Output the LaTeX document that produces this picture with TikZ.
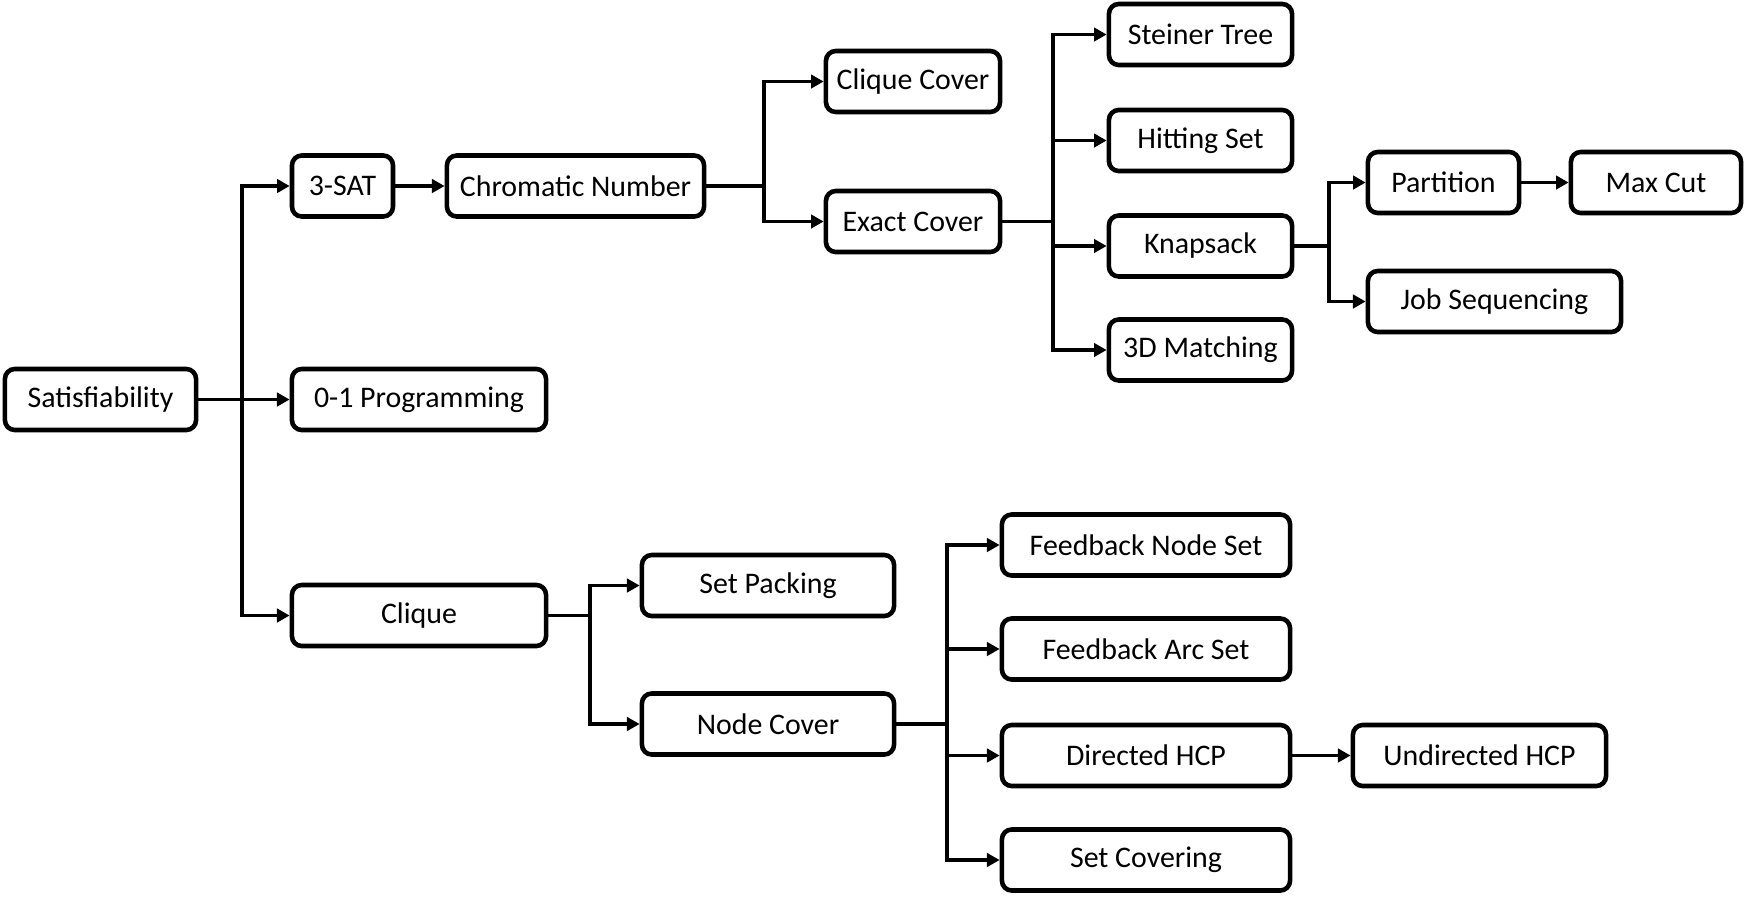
\documentclass[tikz,border=0pt]{standalone}
\usepackage{fontspec}
\setmainfont{Carlito}
\usetikzlibrary{arrows.meta}
\tikzset{
  box/.style={draw=black, line width=1.3pt, rounded corners=2.8pt, fill=white,
    minimum height=0.61cm, inner sep=0pt, font=\fontsize{8.5}{10}\selectfont},
  conn/.style={draw=black, line width=0.95pt},
  arr/.style={conn, -{Triangle[length=3.6pt,width=3.8pt]}}
}
\begin{document}
\begin{tikzpicture}[x=0.01cm, y=-0.01cm]
\useasboundingbox (0,0) rectangle (1747,896);
% nodes
\node[box, minimum width=1.91cm] (sat) at (100.5,399.5) {Satisfiability};
\node[box, minimum width=1.01cm] (sat3) at (342.5,186) {3-SAT};
\node[box, minimum width=2.57cm] (chrom) at (575.5,186) {Chromatic Number};
\node[box, minimum width=2.54cm] (prog) at (419,399.5) {0-1 Programming};
\node[box, minimum width=2.54cm] (clique) at (419,615.5) {Clique};
\node[box, minimum width=1.74cm] (ccover) at (913,81.5) {Clique Cover};
\node[box, minimum width=1.74cm] (ecover) at (913,221.5) {Exact Cover};
\node[box, minimum width=1.83cm] (steiner) at (1200.5,34.5) {Steiner Tree};
\node[box, minimum width=1.83cm] (hitting) at (1200.5,140.5) {Hitting Set};
\node[box, minimum width=1.83cm] (knap) at (1200.5,246) {Knapsack};
\node[box, minimum width=1.83cm] (match) at (1200.5,350) {3D Matching};
\node[box, minimum width=1.51cm] (part) at (1443.5,182.5) {Partition};
\node[box, minimum width=1.70cm] (maxcut) at (1656,182.5) {Max Cut};
\node[box, minimum width=2.53cm] (job) at (1494.5,301.5) {Job Sequencing};
\node[box, minimum width=2.52cm] (setpack) at (768,585.5) {Set Packing};
\node[box, minimum width=2.52cm] (nodecover) at (768,724) {Node Cover};
\node[box, minimum width=2.88cm] (fns) at (1146,545) {Feedback Node Set};
\node[box, minimum width=2.88cm] (fas) at (1146,649) {Feedback Arc Set};
\node[box, minimum width=2.88cm] (dhcp) at (1146,755.5) {Directed HCP};
\node[box, minimum width=2.53cm] (uhcp) at (1479.5,755.5) {Undirected HCP};
\node[box, minimum width=2.88cm] (scov) at (1146,860) {Set Covering};
% junctions
\coordinate (jS) at (242,399.5);
\coordinate (jC) at (764,186);
\coordinate (jE) at (1053,221.5);
\coordinate (jK) at (1329,246);
\coordinate (jQ) at (590,615.5);
\coordinate (jN) at (947,724);
% connectors
\draw[conn] (sat.east) -- (jS);
\draw[arr] (jS) |- (sat3.west);
\draw[arr] (jS) -- (prog.west);
\draw[arr] (jS) |- (clique.west);
\draw[arr] (sat3.east) -- (chrom.west);
\draw[conn] (chrom.east) -- (jC);
\draw[arr] (jC) |- (ccover.west);
\draw[arr] (jC) |- (ecover.west);
\draw[conn] (ecover.east) -- (jE);
\draw[arr] (jE) |- (steiner.west);
\draw[arr] (jE) |- (hitting.west);
\draw[arr] (jE) |- (knap.west);
\draw[arr] (jE) |- (match.west);
\draw[conn] (knap.east) -- (jK);
\draw[arr] (jK) |- (part.west);
\draw[arr] (jK) |- (job.west);
\draw[arr] (part.east) -- (maxcut.west);
\draw[conn] (clique.east) -- (jQ);
\draw[arr] (jQ) |- (setpack.west);
\draw[arr] (jQ) |- (nodecover.west);
\draw[conn] (nodecover.east) -- (jN);
\draw[arr] (jN) |- (fns.west);
\draw[arr] (jN) |- (fas.west);
\draw[arr] (jN) |- (dhcp.west);
\draw[arr] (jN) |- (scov.west);
\draw[arr] (dhcp.east) -- (uhcp.west);
\end{tikzpicture}
\end{document}
